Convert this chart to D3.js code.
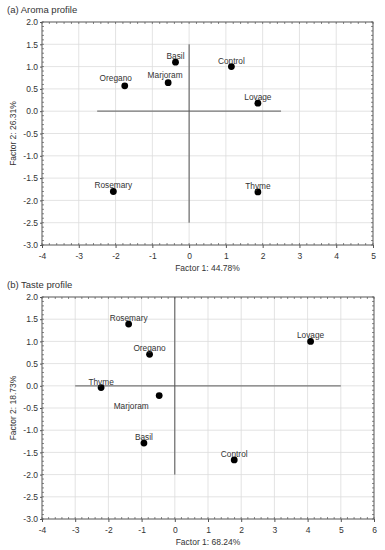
<!DOCTYPE html>
<html>
<head>
<meta charset="utf-8">
<script src="https://cdn.jsdelivr.net/npm/d3@7"></script>
<style>
  body { margin: 0; background: #fff; }
  svg text { font-family: "Liberation Sans", Arial, sans-serif; fill: #333; }
</style>
</head>
<body>
<svg id="chart" width="385" height="550"></svg>
<script>
// ─── Data ─────────────────────────────────────────────────────────────────────
const aromaNames = ['Basil', 'Control', 'Oregano', 'Marjoram', 'Lovage', 'Rosemary', 'Thyme'];
const aromaF1    = [-0.37, 1.15, -1.75, -0.57, 1.87, -2.06, 1.87];
const aromaF2    = [ 1.10, 1.00,  0.57,  0.64, 0.18, -1.80, -1.81];

const tasteNames = ['Rosemary', 'Oregano', 'Lovage', 'Thyme', 'Marjoram', 'Basil', 'Control'];
const tasteF1    = [-1.39, -0.76, 4.09, -2.22, -0.47, -0.93, 1.79];
const tasteF2    = [ 1.39,  0.71, 1.00, -0.04, -0.22, -1.29, -1.67];

const aromaXTicks = [-4, -3, -2, -1, 0, 1, 2, 3, 4, 5];
const tasteXTicks = [-4, -3, -2, -1, 0, 1, 2, 3, 4, 5, 6];
const yTicks      = [2.0, 1.5, 1.0, 0.5, 0.0, -0.5, -1.0, -1.5, -2.0, -2.5, -3.0];

const panels = [
  {
    title: '(a) Aroma profile', xTitle: 'Factor 1: 44.78%', yTitle: 'Factor 2: 26.31%',
    names: aromaNames, f1: aromaF1, f2: aromaF2, xTicks: aromaXTicks,
    xDom: [-4, 5], hLine: [-2.5, 2.5], vLine: [1.5, -2.5],
    box: { left: 42, right: 373, top: 22, bottom: 245 },
    labelOff: { Oregano: [-9, -5], Marjoram: [-3, -5] }
  },
  {
    title: '(b) Taste profile', xTitle: 'Factor 1: 68.24%', yTitle: 'Factor 2: 18.73%',
    names: tasteNames, f1: tasteF1, f2: tasteF2, xTicks: tasteXTicks,
    xDom: [-4, 6], hLine: [-3, 5], vLine: [2, -2],
    box: { left: 42, right: 374, top: 297, bottom: 519 },
    labelOff: { Marjoram: [-28, 13] }
  }
];

const svg = d3.select('#chart');

panels.forEach(p => {
  const b = p.box;
  const x = d3.scaleLinear().domain(p.xDom).range([b.left, b.right]);
  const y = d3.scaleLinear().domain([-3, 2]).range([b.bottom, b.top]);
  const g = svg.append('g');

  // ── Title ─────────────────────────────────────────────────────────────────
  g.append('text').attr('x', 7).attr('y', b.top - 9)
    .attr('font-size', 9.5).text(p.title);

  // ── Grid ──────────────────────────────────────────────────────────────────
  g.selectAll('.gx').data(p.xTicks).enter().append('line')
    .attr('x1', d => x(d)).attr('x2', d => x(d))
    .attr('y1', b.top).attr('y2', b.bottom)
    .attr('stroke', '#dcdcdc').attr('stroke-width', 0.8);
  g.selectAll('.gy').data(yTicks).enter().append('line')
    .attr('y1', d => y(d)).attr('y2', d => y(d))
    .attr('x1', b.left).attr('x2', b.right)
    .attr('stroke', '#dcdcdc').attr('stroke-width', 0.8);

  // ── Minor ticks (inside frame) ────────────────────────────────────────────
  const xMinor = d3.range(p.xDom[0], p.xDom[1] + 0.001, 0.2);
  const yMinor = d3.range(-3, 2.001, 0.1);
  const mk = (data, fn) => g.append('g').selectAll('line').data(data).enter()
    .append('line').each(fn).attr('stroke', '#555').attr('stroke-width', 0.7);
  mk(xMinor, function(d) { d3.select(this).attr('x1', x(d)).attr('x2', x(d)).attr('y1', b.top).attr('y2', b.top + 2); });
  mk(xMinor, function(d) { d3.select(this).attr('x1', x(d)).attr('x2', x(d)).attr('y1', b.bottom).attr('y2', b.bottom - 2); });
  mk(yMinor, function(d) { d3.select(this).attr('y1', y(d)).attr('y2', y(d)).attr('x1', b.left).attr('x2', b.left + 2); });
  mk(yMinor, function(d) { d3.select(this).attr('y1', y(d)).attr('y2', y(d)).attr('x1', b.right).attr('x2', b.right - 2); });

  // ── Frame ─────────────────────────────────────────────────────────────────
  g.append('rect').attr('x', b.left).attr('y', b.top)
    .attr('width', b.right - b.left).attr('height', b.bottom - b.top)
    .attr('fill', 'none').attr('stroke', '#555').attr('stroke-width', 0.9);

  // ── Axes ──────────────────────────────────────────────────────────────────
  const xa = g.append('g').attr('transform', `translate(0,${b.bottom})`)
    .call(d3.axisBottom(x).tickValues(p.xTicks).tickSize(3).tickSizeOuter(0));
  const ya = g.append('g').attr('transform', `translate(${b.left},0)`)
    .call(d3.axisLeft(y).tickValues(yTicks).tickSize(2).tickSizeOuter(0));
  [xa, ya].forEach(a => {
    a.select('.domain').remove();
    a.selectAll('line').attr('stroke', '#555');
    a.selectAll('text').attr('font-size', 8.5).attr('fill', '#333');
  });
  xa.selectAll('text').attr('dy', '0.9em').text(d => String(d));
  ya.selectAll('text').attr('x', -4).text(d => d.toFixed(1));

  g.append('text').attr('x', (b.left + b.right) / 2).attr('y', b.bottom + 26)
    .attr('text-anchor', 'middle').attr('font-size', 8.5).text(p.xTitle);
  g.append('text')
    .attr('transform', `translate(16,${(b.top + b.bottom) / 2}) rotate(-90)`)
    .attr('text-anchor', 'middle').attr('font-size', 8.5).text(p.yTitle);

  // ── Cross lines ───────────────────────────────────────────────────────────
  g.append('line').attr('x1', x(p.hLine[0])).attr('x2', x(p.hLine[1]))
    .attr('y1', y(0)).attr('y2', y(0)).attr('stroke', '#777').attr('stroke-width', 1.3);
  g.append('line').attr('x1', x(0)).attr('x2', x(0))
    .attr('y1', y(p.vLine[0])).attr('y2', y(p.vLine[1])).attr('stroke', '#555').attr('stroke-width', 1);

  // ── Points + labels ───────────────────────────────────────────────────────
  const pts = p.names.map((n, i) => ({ name: n, f1: p.f1[i], f2: p.f2[i] }));
  g.selectAll('.pt').data(pts).enter().append('circle')
    .attr('cx', d => x(d.f1)).attr('cy', d => y(d.f2)).attr('r', 3.4).attr('fill', '#000');
  g.selectAll('.lb').data(pts).enter().append('text')
    .attr('text-anchor', 'middle').attr('font-size', 8.3)
    .attr('x', d => x(d.f1) + (p.labelOff[d.name] ? p.labelOff[d.name][0] : 0))
    .attr('y', d => y(d.f2) + (p.labelOff[d.name] ? p.labelOff[d.name][1] : -3))
    .text(d => d.name);
});
</script>
</body>
</html>
